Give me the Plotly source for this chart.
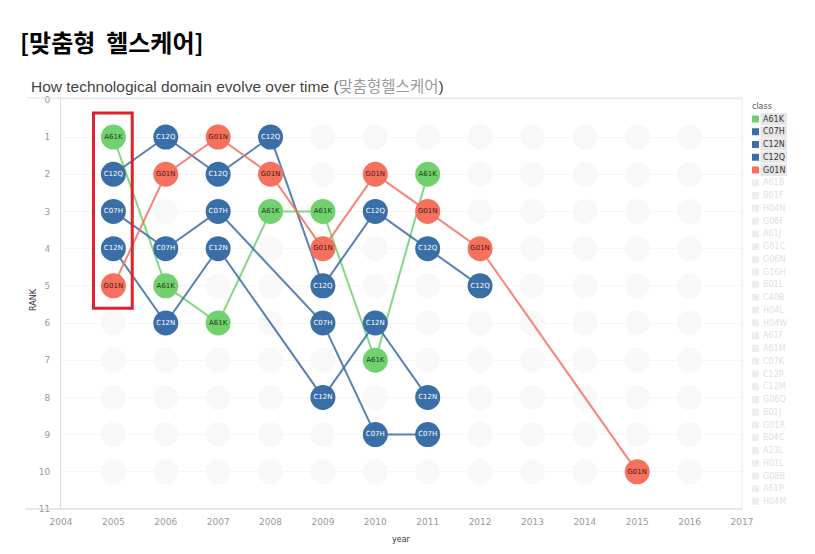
import plotly.graph_objects as go

# ---------------- data ----------------
CLASSES = ["A61K", "C07H", "C12N", "C12Q", "G01N"]
COLORS = {"A61K": "#72d16f", "C07H": "#3a6ea7", "C12N": "#3a6ea7",
          "C12Q": "#3a6ea7", "G01N": "#f5715e"}
TEXT_COLORS = {"A61K": "#1d3b12", "C07H": "#ffffff", "C12N": "#ffffff",
               "C12Q": "#ffffff", "G01N": "#4a1410"}

A61K_years = [2005, 2006, 2007, 2008, 2009, 2010, 2011]
A61K_ranks = [1, 5, 6, 3, 3, 7, 2]
C07H_years = [2005, 2006, 2007, 2009, 2010, 2011]
C07H_ranks = [3, 4, 3, 6, 9, 9]
C12N_years = [2005, 2006, 2007, 2009, 2010, 2011]
C12N_ranks = [4, 6, 4, 8, 6, 8]
C12Q_years = [2005, 2006, 2007, 2008, 2009, 2010, 2011, 2012]
C12Q_ranks = [2, 1, 2, 1, 5, 3, 4, 5]
G01N_years = [2005, 2006, 2007, 2008, 2009, 2010, 2011, 2012, 2015]
G01N_ranks = [5, 2, 1, 2, 4, 2, 3, 4, 10]

SERIES = {
    "A61K": (A61K_years, A61K_ranks),
    "C07H": (C07H_years, C07H_ranks),
    "C12N": (C12N_years, C12N_ranks),
    "C12Q": (C12Q_years, C12Q_ranks),
    "G01N": (G01N_years, G01N_ranks),
}

# faded (non-highlighted) classes occupy the remaining rank slots
BG_YEARS = [2005, 2006, 2007, 2008, 2009, 2010, 2011, 2012, 2013, 2014, 2015, 2016]
BG_RANKS = [1, 2, 3, 4, 5, 6, 7, 8, 9, 10]
FADED_CLASSES = ["A61B", "B01F", "H04N", "G06F", "A61J", "G01C", "G06N", "G16H",
                 "B01L", "C40B", "H04L", "H04W", "A61F", "A61M", "C07K", "C12P",
                 "C12M", "G06Q", "B01J", "G01R", "B04C", "A23L", "H01L", "G08B",
                 "A61P", "H04M"]

X_TICKS = list(range(2004, 2018))
Y_TICKS = list(range(0, 12))

# ---------------- layout geometry (px) ----------------
W, H = 815, 554
L, R, T, B = 61, 742, 98, 509


def px(xp):
    return (xp - L) / (R - L)


def py(yp):
    return (B - yp) / (B - T)


fig = go.Figure()

# background faded circles
occupied = set()
for c in CLASSES:
    for yr, rk in zip(*SERIES[c]):
        occupied.add((yr, rk))
bgx, bgy = [], []
for yr in BG_YEARS:
    for rk in BG_RANKS:
        if (yr, rk) not in occupied:
            bgx.append(yr)
            bgy.append(rk)
fig.add_trace(go.Scatter(x=bgx, y=bgy, mode="markers", showlegend=False,
                         hoverinfo="skip",
                         marker=dict(size=25, color="#f8f8f8", line=dict(width=0))))

# lines
for c in CLASSES:
    xs, ys = SERIES[c]
    fig.add_trace(go.Scatter(x=xs, y=ys, mode="lines", showlegend=False,
                             hoverinfo="skip", opacity=0.85,
                             line=dict(color=COLORS[c], width=2)))
# markers
for c in CLASSES:
    xs, ys = SERIES[c]
    fig.add_trace(go.Scatter(x=xs, y=ys, mode="markers+text", name=c,
                             showlegend=False,
                             text=[c] * len(xs), textposition="middle center",
                             textfont=dict(size=7, color=TEXT_COLORS[c],
                                           family="DejaVu Sans"),
                             marker=dict(size=25, color=COLORS[c],
                                         line=dict(width=0))))

shapes = []
annotations = []

# panel borders
shapes.append(dict(type="line", xref="paper", yref="paper", x0=px(27), x1=1,
                   y0=1, y1=1, line=dict(color="#dcdcdc", width=1)))
shapes.append(dict(type="line", xref="paper", yref="paper", x0=px(25), x1=1,
                   y0=0, y1=0, line=dict(color="#cfcfcf", width=1)))
shapes.append(dict(type="line", xref="paper", yref="paper", x0=1, x1=1,
                   y0=0, y1=1, line=dict(color="#e6e6e6", width=1)))

# red highlight box around 2005
shapes.append(dict(type="rect", xref="x", yref="y", x0=2004.62, x1=2005.36,
                   y0=0.35, y1=5.6, line=dict(color="#d9262c", width=3),
                   fillcolor="rgba(0,0,0,0)"))

# titles
annotations.append(dict(xref="paper", yref="paper", x=px(18), y=py(41),
                        xanchor="left", yanchor="middle", showarrow=False,
                        text="<b>[맞춤형\u00a0\u00a0헬스케어]</b>",
                        font=dict(size=24, color="#000000",
                                  family="Noto Sans CJK KR")))
annotations.append(dict(xref="paper", yref="paper", x=px(29), y=py(86),
                        xanchor="left", yanchor="middle", showarrow=False,
                        text="How technological domain evolve over time "
                             "(<span style='color:#9a9a9a'>맞춤형헬스케어</span>)",
                        font=dict(size=15.5, color="#444444",
                                  family="Liberation Sans, Noto Sans CJK KR")))
# axis titles
annotations.append(dict(xref="paper", yref="paper", x=px(33), y=py(300),
                        xanchor="center", yanchor="middle", showarrow=False,
                        text="RANK", textangle=-90,
                        font=dict(size=8, color="#333333", family="DejaVu Sans")))
annotations.append(dict(xref="paper", yref="paper", x=px(401), y=py(539),
                        xanchor="center", yanchor="middle", showarrow=False,
                        text="year",
                        font=dict(size=8, color="#333333", family="DejaVu Sans")))

# manual legend
annotations.append(dict(xref="paper", yref="paper", x=px(750), y=py(107),
                        xanchor="left", yanchor="middle", showarrow=False,
                        text="class",
                        font=dict(size=8, color="#555555", family="DejaVu Sans")))
legend_items = [(c, COLORS[c], True) for c in CLASSES] + \
               [(c, "#eeeeee", False) for c in FADED_CLASSES]
for i, (name, col, hl) in enumerate(legend_items):
    yc = 119 + i * 12.75
    if hl:
        shapes.append(dict(type="rect", xref="paper", yref="paper",
                           x0=px(760.5), x1=px(787), y0=py(yc + 6), y1=py(yc - 6),
                           fillcolor="#e6e6e6", line=dict(width=0), layer="below"))
    shapes.append(dict(type="rect", xref="paper", yref="paper",
                       x0=px(752), x1=px(759), y0=py(yc + 3.5), y1=py(yc - 3.5),
                       fillcolor=col, line=dict(width=0)))
    annotations.append(dict(xref="paper", yref="paper", x=px(761.5), y=py(yc),
                            xanchor="left", yanchor="middle", showarrow=False,
                            text=name,
                            font=dict(size=8, color="#333333" if hl else "#dedede",
                                      family="DejaVu Sans")))

fig.update_layout(
    width=W, height=H,
    margin=dict(l=L, r=W - R, t=T, b=H - B),
    paper_bgcolor="white", plot_bgcolor="white",
    showlegend=False,
    shapes=shapes, annotations=annotations,
    xaxis=dict(range=[2004, 2017], tickvals=X_TICKS,
               ticktext=[str(v) for v in X_TICKS],
               showgrid=False, zeroline=False, showline=False,
               tickfont=dict(size=9, color="#999999", family="DejaVu Sans"),
               ticks="", ticklabelstandoff=6),
    yaxis=dict(range=[11.0, -0.05], tickvals=Y_TICKS,
               ticktext=[str(v) for v in Y_TICKS],
               showgrid=True, gridcolor="#f5f5f5", gridwidth=1,
               zeroline=False, showline=True, linecolor="#dcdcdc", linewidth=1,
               tickfont=dict(size=9, color="#999999", family="DejaVu Sans"),
               ticks="", ticklabelstandoff=8),
)

fig.write_html("out.html", config={"displayModeBar": False},
               post_script="document.body.style.margin='0';document.body.style.padding='0';")
